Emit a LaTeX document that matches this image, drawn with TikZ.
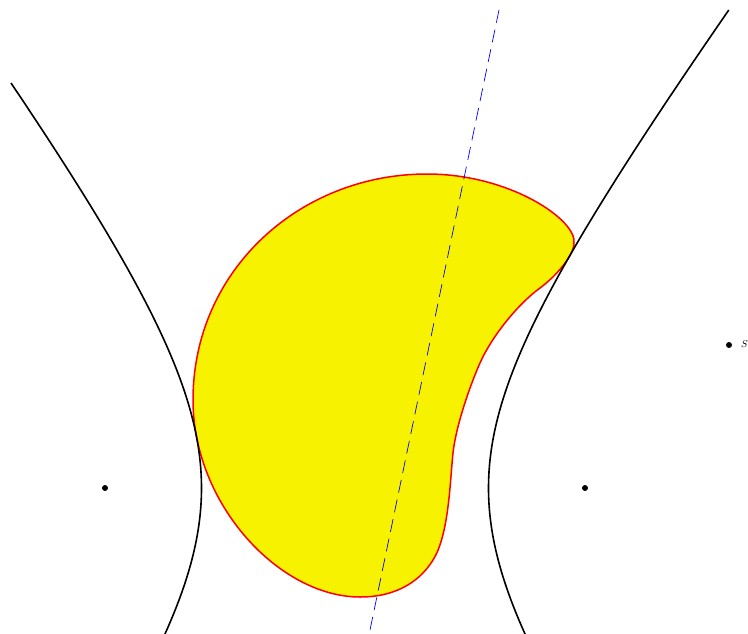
\documentclass[tikz,border=0pt]{standalone}
\begin{document}
\begin{tikzpicture}[x=1pt,y=-1pt,
  dotmark/.style={circle,fill=black,inner sep=0pt,minimum size=6pt},
  hyp/.style={black,line width=1.6pt},
  blob/.style={draw=red,fill={rgb,255:red,247;green,243;blue,0},line width=1.5pt},
  axisline/.style={blue,line width=0.7pt,dash pattern=on 13pt off 7pt}]
\useasboundingbox (0,0) rectangle (748,633);
\begin{scope}
\clip (0,0) rectangle (748,633);
\filldraw[blob] (427,174)
  .. controls (510,174) and (577,220) .. (574,243)
  .. controls (574,256) and (555,277) .. (540,288)
  .. controls (518,304) and (492,336) .. (480,363)
  .. controls (471,383) and (456,425) .. (453,453)
  .. controls (450,481) and (449,535) .. (433,560)
  .. controls (422,578) and (400,597) .. (360,597)
  .. controls (280,597) and (193,505) .. (193,400)
  .. controls (193,270) and (300,174) .. (427,174) -- cycle;
\draw[hyp,domain=83:640,samples=120,variable=\y]
  plot ({345-143.5*sqrt(1+((\y-488)/192.7)^2)},{\y});
\draw[hyp,domain=10:640,samples=120,variable=\y]
  plot ({345+143.5*sqrt(1+((\y-488)/192.7)^2)},{\y});
\coordinate (ltop) at (499,10);
\coordinate (lbot) at (370,630);
\draw[axisline] (ltop) -- (lbot);
\end{scope}
\node[dotmark] (F1) at (105,488) {};
\node[dotmark] (F2) at (585,488) {};
\node[dotmark] (S) at (729,345) {};
\node[anchor=base west,inner sep=0pt] (Slab) at (741,347) {$S$};
\end{tikzpicture}
\end{document}
